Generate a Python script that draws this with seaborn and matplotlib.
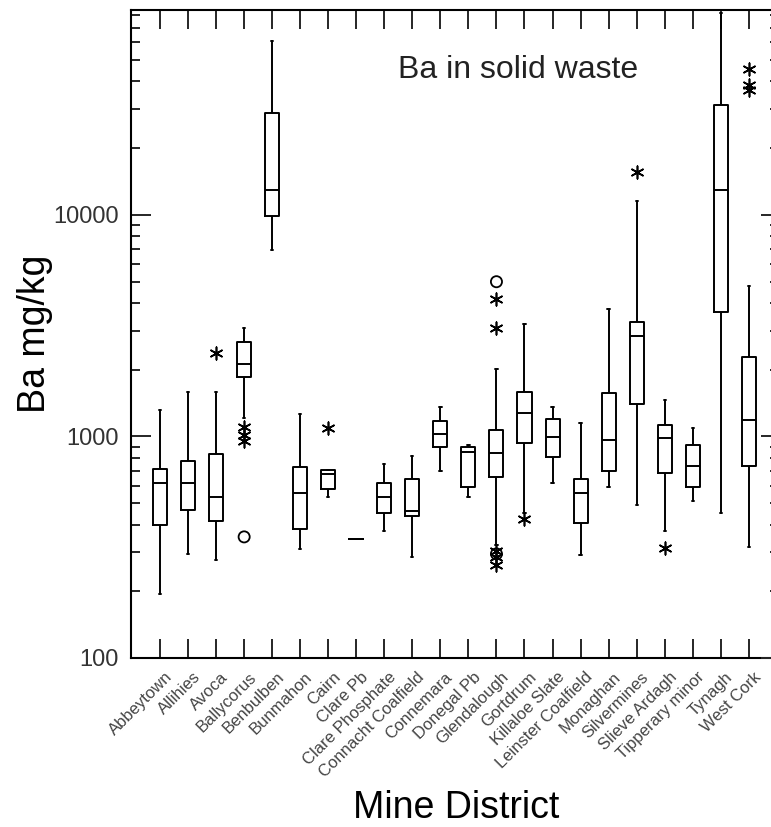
import numpy as np
import pandas as pd
import seaborn as sns
import matplotlib.pyplot as plt
from matplotlib.ticker import LogLocator, NullFormatter, FixedLocator, FixedFormatter
from matplotlib.transforms import ScaledTranslation

# -------- Data --------
categories = ["Abbeytown", "Allihies", "Avoca", "Ballycorus", "Benbulben", "Bunmahon",
              "Cairn", "Clare Pb", "Clare Phosphate", "Connacht Coalfield", "Connemara",
              "Donegal Pb", "Glendalough", "Gortdrum", "Killaloe Slate", "Leinster Coalfield",
              "Monaghan", "Silvermines", "Slieve Ardagh", "Tipperary minor", "Tynagh", "West Cork"]

whisker_low = [195, 296, 278, 1216, 6945, 310, 534, 344, 373, 286, 697,
               534, 324, 451, 617, 291, 592, 492, 373, 510, 451, 316]
q1 = [400, 467, 415, 1863, 9860, 382, 580, 344, 451, 439, 898,
      592, 657, 936, 809, 407, 697, 1396, 685, 592, 3650, 734]
median = [617, 617, 534, 2117, 12980, 556, 680, 344, 534, 459, 1021,
          849, 844, 1281, 997, 556, 959, 2843, 982, 734, 12980, 1185]
q3 = [714, 776, 829, 2655, 28850, 729, 702, 344, 617, 644, 1173,
      898, 1064, 1586, 1202, 644, 1577, 3268, 1130, 917, 31240, 2294]
whisker_high = [1315, 1586, 1586, 3071, 60800, 1259, 702, 344, 747, 815, 1362,
                910, 2025, 3212, 1362, 1153, 3757, 11530, 1455, 1087, 81000, 4786]

star_district = ["Avoca", "Ballycorus", "Ballycorus", "Ballycorus", "Cairn",
                 "Glendalough", "Glendalough", "Glendalough", "Glendalough", "Glendalough",
                 "Gortdrum", "Silvermines", "Slieve Ardagh", "West Cork", "West Cork", "West Cork"]
star_value = [2390, 1100, 1020, 955, 1094, 4170, 3100, 305, 285, 262,
              424, 15600, 313, 45400, 38700, 36500]
circle_district = ["Ballycorus", "Glendalough", "Glendalough"]
circle_value = [352, 4990, 295]

y_ticks = [100, 1000, 10000]
y_tick_labels = ["100", "1000", "10000"]

# five summary values per district -> seaborn draws the box from them
rows = []
for i, cat in enumerate(categories):
    for v in (whisker_low[i], q1[i], median[i], q3[i], whisker_high[i]):
        rows.append((cat, v))
box_df = pd.DataFrame(rows, columns=["district", "ba"])
star_df = pd.DataFrame({"district": star_district, "ba": star_value})
circle_df = pd.DataFrame({"district": circle_district, "ba": circle_value})

# -------- Style --------
sns.set_style("ticks")
plt.rcParams["font.family"] = ["Liberation Sans", "DejaVu Sans"]

fig = plt.figure(figsize=(7.71, 8.27), dpi=100)
ax = fig.add_axes([131 / 771, 169 / 827, 643 / 771, 648 / 827])

sns.boxplot(data=box_df, x="district", y="ba", order=categories, ax=ax,
            whis=(0, 100), width=0.5, fill=False, color="black",
            linewidth=1.4, capwidths=0.08, showfliers=False)
sns.stripplot(data=star_df, x="district", y="ba", order=categories, ax=ax,
              jitter=False, marker=(6, 2, 0), size=9, color="black",
              edgecolor="black", linewidth=1.2)
sns.stripplot(data=circle_df, x="district", y="ba", order=categories, ax=ax,
              jitter=False, marker="o", size=8, color="black",
              facecolor="none", edgecolor="black", linewidth=1.3)

ax.set_yscale("log")
ax.set_ylim(100, 84000)
ax.set_xlim(-1.036, 21.9)

for s in ax.spines.values():
    s.set_linewidth(1.5)
    s.set_color("black")

# y axis: inward ticks on the left
ax.yaxis.set_major_locator(FixedLocator(y_ticks))
ax.yaxis.set_major_formatter(FixedFormatter(y_tick_labels))
ax.yaxis.set_minor_locator(LogLocator(base=10, subs=np.arange(2, 10)))
ax.yaxis.set_minor_formatter(NullFormatter())
ax.tick_params(axis="y", which="major", direction="in", length=14.4, width=1.4,
               left=True, right=False, labelsize=17, labelcolor="#333333", pad=9)
ax.tick_params(axis="y", which="minor", direction="in", length=6.5, width=1.4,
               left=True, right=False)

# x axis: inward ticks top and bottom
ax.tick_params(axis="x", which="major", direction="in", length=13.5, width=1.4,
               top=True, bottom=True, labelsize=12, labelcolor="#444444", pad=12)
ax.set_xticks(range(len(categories)))
ax.set_xticklabels(categories, rotation=45, ha="right", va="center",
                   rotation_mode="anchor")
offset = ScaledTranslation(7 / 72, 0, fig.dpi_scale_trans)
for lab in ax.get_xticklabels():
    lab.set_transform(lab.get_transform() + offset)

# right side ticks via twin axis (shorter)
ax2 = ax.twinx()
ax2.set_yscale("log")
ax2.set_ylim(ax.get_ylim())
ax2.yaxis.set_major_locator(FixedLocator(y_ticks))
ax2.yaxis.set_minor_locator(LogLocator(base=10, subs=np.arange(2, 10)))
ax2.yaxis.set_major_formatter(NullFormatter())
ax2.yaxis.set_minor_formatter(NullFormatter())
ax2.tick_params(axis="y", which="major", direction="in", length=9.5, width=1.4)
ax2.tick_params(axis="y", which="minor", direction="in", length=3, width=1.4)
for s in ax2.spines.values():
    s.set_visible(False)

ax.set_xlabel("Mine District", fontsize=27, color="black")
ax.set_ylabel("Ba mg/kg", fontsize=27, color="black")
ax.xaxis.set_label_coords(0.505, -0.203)
ax.yaxis.set_label_coords(-0.122, 0.5)

ax.text(0.416, 0.895, "Ba in solid waste", transform=ax.transAxes,
        fontsize=23, color="#222222", ha="left", va="baseline")

fig.savefig("out.png", dpi=100)
